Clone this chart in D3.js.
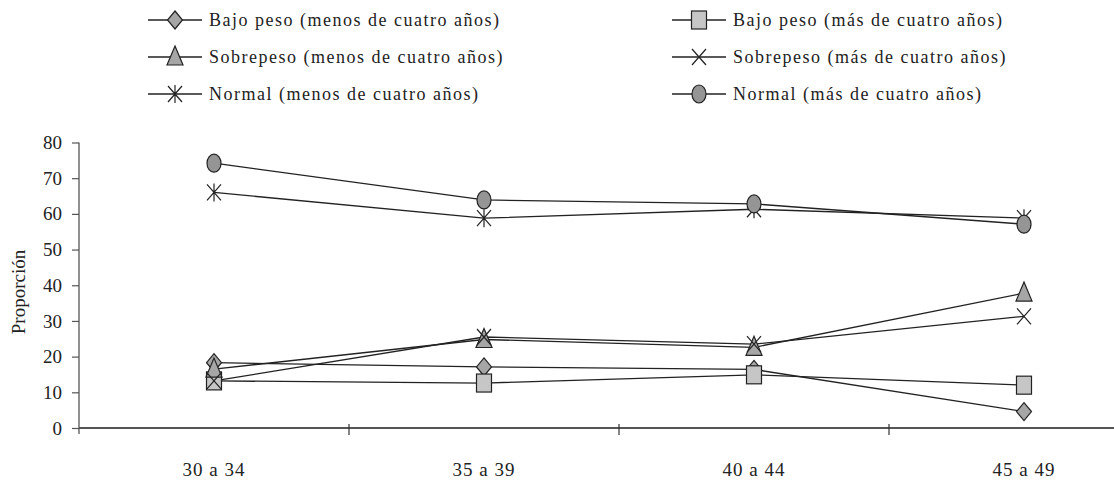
<!DOCTYPE html>
<html><head><meta charset="utf-8">
<script src="https://cdn.jsdelivr.net/npm/d3@7"></script>
<style>
body{margin:0;background:#fff;}
svg{display:block;}
text{font-family:"Liberation Serif","Times New Roman",serif;fill:#222;}
</style></head>
<body>
<svg id="c" width="1114" height="480"></svg>
<script>
const categories = ["30 a 34","35 a 39","40 a 44","45 a 49"];
const yTicks = [0,10,20,30,40,50,60,70,80];
const bajoMenos = [18.3, 17.1, 16.4, 4.6];
const bajoMas = [13.2, 12.6, 14.9, 12.0];
const sobreMenos = [16.5, 24.8, 22.6, 37.8];
const sobreMas = [13.2, 25.5, 23.5, 31.3];
const normalMenos = [66.0, 58.8, 61.3, 58.8];
const normalMas = [74.2, 63.9, 62.8, 57.1];

const series = [
  {name:"Bajo peso (menos de cuatro años)", values:bajoMenos, marker:"diamond", fill:"#a6a6a6"},
  {name:"Bajo peso (más de cuatro años)", values:bajoMas, marker:"square", fill:"#c6c6c6"},
  {name:"Sobrepeso (menos de cuatro años)", values:sobreMenos, marker:"triangle", fill:"#a6a6a6"},
  {name:"Sobrepeso (más de cuatro años)", values:sobreMas, marker:"x", fill:"none"},
  {name:"Normal (menos de cuatro años)", values:normalMenos, marker:"star", fill:"none"},
  {name:"Normal (más de cuatro años)", values:normalMas, marker:"circle", fill:"#959595"}
];

const svg = d3.select("#c");
const x0 = 79, y0 = 428;
const x = d3.scaleBand().domain(categories).range([x0, x0 + 4*270]);
const y = d3.scaleLinear().domain([0,80]).range([y0, 142.5]);

const axisColor = "#555";
// y axis
const yAx = svg.append("g").attr("transform",`translate(${x0},0)`)
  .call(d3.axisLeft(y).tickValues(yTicks).tickSize(7).tickSizeOuter(0).tickPadding(10));
yAx.select(".domain").attr("stroke",axisColor).attr("stroke-width",1.3).attr("d",`M0,${y(80)}V${y0+6}`);
yAx.selectAll(".tick line").attr("stroke",axisColor).attr("stroke-width",1.2);
yAx.selectAll(".tick text").style("font-size","19px").style("font-family","'Liberation Serif',serif").attr("fill","#333");

// x axis
const xAx = svg.append("g").attr("transform",`translate(0,${y0})`);
xAx.append("line").attr("x1",x0).attr("x2",1114).attr("y1",0).attr("y2",0).attr("stroke",axisColor).attr("stroke-width",2);
const bounds = categories.slice(1).map(c=>x(c));
xAx.selectAll("line.t").data(bounds).enter().append("line").attr("class","t")
  .attr("x1",d=>d).attr("x2",d=>d).attr("y1",-4).attr("y2",7).attr("stroke","#333").attr("stroke-width",1.2);
xAx.selectAll("text").data(categories).enter().append("text")
  .attr("x",d=>x(d)+x.bandwidth()/2).attr("y",48).attr("text-anchor","middle")
  .style("font-size","19px").style("letter-spacing","1px").attr("fill","#333").text(d=>d);

svg.append("text").attr("transform","translate(25,292) rotate(-90)").attr("text-anchor","middle")
  .style("font-size","19px").text("Proporción");

function drawMarker(g, type, fill){
  const s = "#222";
  if(type==="diamond") g.append("path").attr("d","M0,-9L7.5,0L0,9L-7.5,0Z").attr("fill",fill).attr("stroke",s).attr("stroke-width",1.2);
  else if(type==="square") g.append("rect").attr("x",-7.5).attr("y",-9).attr("width",15).attr("height",18).attr("fill",fill).attr("stroke",s).attr("stroke-width",1.2);
  else if(type==="triangle") g.append("path").attr("d","M0,-11L8,8L-8,8Z").attr("fill",fill).attr("stroke",s).attr("stroke-width",1.2);
  else if(type==="circle") g.append("ellipse").attr("rx",7).attr("ry",9).attr("fill",fill).attr("stroke",s).attr("stroke-width",1.2);
  else if(type==="x") g.append("path").attr("d","M-7,-8L7,8M-7,8L7,-8").attr("stroke",s).attr("stroke-width",1.2).attr("fill","none");
  else if(type==="star") g.append("path").attr("d","M-7,-8L7,8M-7,8L7,-8M0,-9V9").attr("stroke",s).attr("stroke-width",1.2).attr("fill","none");
}

const line = d3.line().x((d,i)=>x(categories[i])+x.bandwidth()/2).y(d=>y(d));
series.forEach(sr=>{
  svg.append("path").datum(sr.values).attr("d",line).attr("fill","none").attr("stroke","#222").attr("stroke-width",1.3);
});
series.forEach(sr=>{
  sr.values.forEach((v,i)=>{
    const g = svg.append("g").attr("transform",`translate(${x(categories[i])+x.bandwidth()/2},${y(v)})`);
    drawMarker(g, sr.marker, sr.fill);
  });
});

// legend
const legPos = [[148,20],[672,20],[148,57],[672,57],[148,94],[672,94]];
series.forEach((sr,i)=>{
  const [lx,ly] = legPos[i];
  const g = svg.append("g").attr("transform",`translate(${lx},${ly})`);
  g.append("line").attr("x1",0).attr("x2",54).attr("y1",0).attr("y2",0).attr("stroke","#222").attr("stroke-width",1.3);
  drawMarker(g.append("g").attr("transform","translate(27,0)"), sr.marker, sr.fill);
  g.append("text").attr("x",61).attr("y",6).style("font-size","18px").style("letter-spacing","1.5px").text(sr.name);
});
</script>
</body></html>
